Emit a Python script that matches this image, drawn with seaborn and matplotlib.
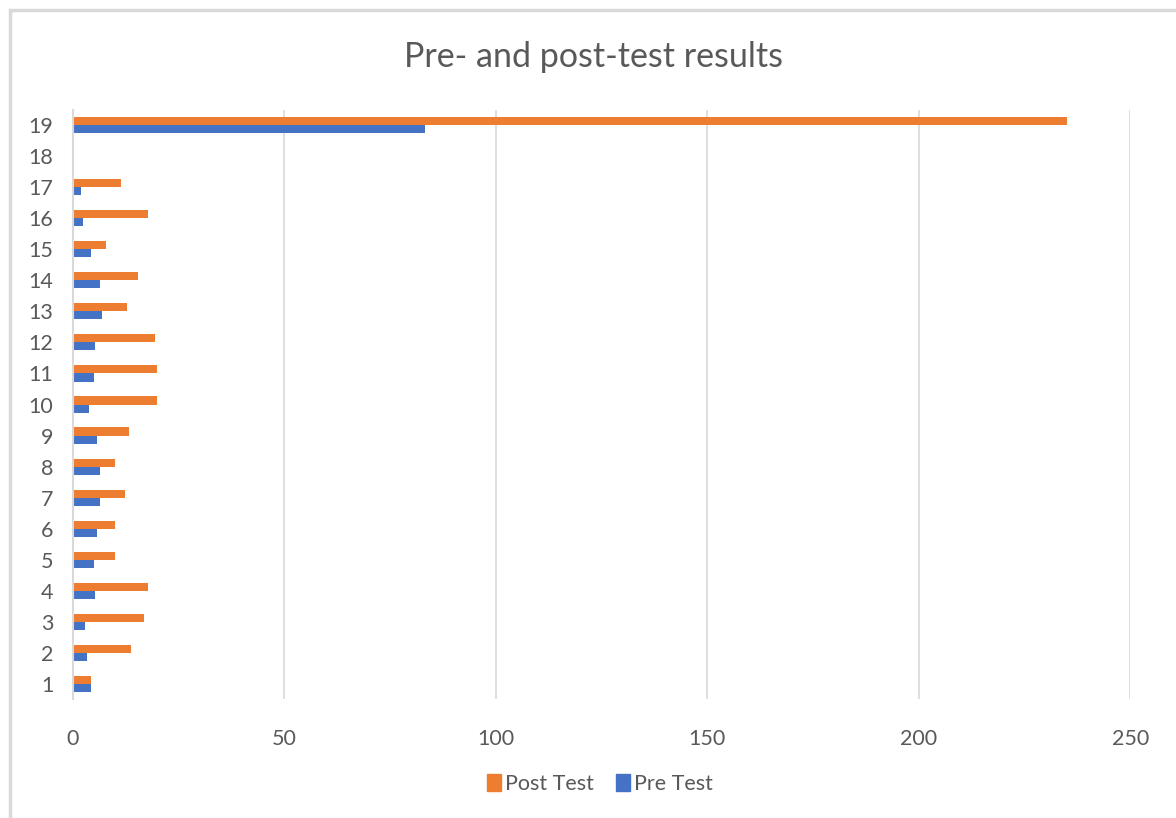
import matplotlib
matplotlib.use("Agg")
import matplotlib.pyplot as plt
import matplotlib.patches as mpatches
import pandas as pd
import seaborn as sns

# Participant numbers and their scores
participants = [str(i) for i in range(1, 20)]
pre_test = [4.3, 3.3, 2.8, 5.3, 4.9, 5.8, 6.3, 6.3, 5.8, 3.9,
            4.9, 5.3, 6.9, 6.3, 4.3, 2.3, 1.9, 0, 83.3]
post_test = [4.3, 13.8, 16.9, 17.8, 9.9, 9.9, 12.4, 9.9, 13.3, 19.9,
             19.9, 19.4, 12.8, 15.3, 7.8, 17.8, 11.3, 0, 235]
series_names = ["Post Test", "Pre Test"]
x_ticks = [0, 50, 100, 150, 200, 250]
title = "Pre- and post-test results"

colors = {"Post Test": "#ED7D31", "Pre Test": "#4472C4"}

df = pd.DataFrame({
    "participant": participants * 2,
    "score": post_test + pre_test,
    "test": ["Post Test"] * len(participants) + ["Pre Test"] * len(participants),
})

sns.set_theme(style="white")
plt.rcParams["font.family"] = ["Lato", "DejaVu Sans"]

fig = plt.figure(figsize=(11.76, 8.18), dpi=100)
ax = fig.add_axes([0.062, 0.145, 0.899, 0.721])

sns.barplot(
    data=df, x="score", y="participant", hue="test",
    order=participants[::-1], hue_order=series_names,
    palette=colors, orient="h", width=0.52, linewidth=0,
    saturation=1, ax=ax, legend=False,
)

ax.set_xlim(0, 250)
ax.set_xticks(x_ticks)
ax.set_xticklabels([str(t) for t in x_ticks])
ax.set_xlabel("")
ax.set_ylabel("")
ax.grid(axis="x", color="#d9d9d9", linewidth=1.2)
ax.set_axisbelow(True)
for side in ["top", "right", "bottom"]:
    ax.spines[side].set_visible(False)
ax.spines["left"].set_color("#d9d9d9")
ax.spines["left"].set_linewidth(1.5)
ax.tick_params(axis="x", length=0, pad=21, labelsize=15.5, labelcolor="#595959")
ax.tick_params(axis="y", length=0, pad=14, labelsize=15.5, labelcolor="#595959")

fig.text(0.505, 0.930, title, ha="center", va="center", fontsize=24.5, color="#595959")

handles = [mpatches.Patch(color=colors[n], label=n) for n in series_names]
fig.legend(handles=handles, loc="center", bbox_to_anchor=(0.51, 0.042), ncol=2,
           frameon=False, fontsize=15.5, handlelength=0.65, handleheight=0.85,
           handletextpad=0.2, columnspacing=1.0, labelcolor="#595959")

# Chart frame
fig.patches.append(mpatches.Rectangle((10 / 1176, -0.05), 1.2, 1 - 10 / 818 + 0.05,
                                      transform=fig.transFigure, fill=False,
                                      edgecolor="#d9d9d9", linewidth=2.5))

fig.savefig("out.png", dpi=100, facecolor="white")
